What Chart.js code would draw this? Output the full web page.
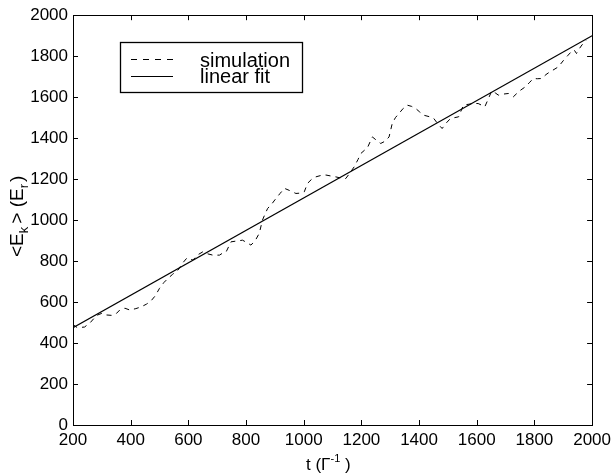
<!DOCTYPE html>
<html>
<head>
<meta charset="utf-8">
<script src="https://cdn.jsdelivr.net/npm/chart.js@4"></script>
<style>
html,body{margin:0;padding:0;background:#fff;}
canvas{display:block;}
</style>
</head>
<body>
<canvas id="c" width="616" height="475"></canvas>
<script>
// ---- data ----
const simT = [200,215,240,260,282,300,316,335,351,362,380,397,418,437,455,470,485,500,515,529,545,564,580,595,616,632,650,668,685,708,720,731,748,768,788,803,817,832,846,857,866,875,890,904,918,933,950,973,990,1002,1013,1028,1042,1060,1077,1095,1111,1130,1146,1160,1175,1188,1198,1210,1220,1238,1252,1267,1282,1296,1307,1318,1330,1345,1359,1374,1388,1402,1416,1435,1451,1465,1480,1495,1509,1523,1537,1554,1570,1588,1605,1628,1652,1665,1675,1692,1710,1727,1748,1768,1782,1796,1810,1825,1840,1854,1868,1883,1900,1917,1930,1938,1946,1955,1965,1980];
const simE = [490,475,478,500,535,545,537,535,545,561,570,561,568,577,590,605,630,667,695,715,735,756,790,815,805,830,845,835,829,829,840,845,894,898,902,890,878,900,936,1000,1030,1057,1080,1106,1130,1155,1145,1130,1132,1138,1179,1200,1211,1218,1220,1215,1211,1205,1203,1230,1260,1295,1325,1340,1350,1406,1390,1374,1385,1406,1472,1500,1520,1545,1561,1555,1545,1528,1512,1505,1496,1470,1447,1475,1496,1500,1504,1561,1565,1569,1569,1553,1630,1620,1610,1615,1618,1602,1630,1650,1670,1691,1690,1691,1710,1724,1735,1748,1778,1805,1825,1830,1813,1835,1855,1878];
const fitT = [200, 2000];
const fitE = [475, 1900];
const xTicks = [200,400,600,800,1000,1200,1400,1600,1800,2000];
const yTicks = [0,200,400,600,800,1000,1200,1400,1600,1800,2000];
const seriesNames = ['simulation', 'linear fit'];

const FONT = "'Liberation Sans', Arial, Helvetica, sans-serif";
Chart.defaults.font.family = FONT;
Chart.defaults.color = '#000';

const frameAndDecor = {
  id: 'frameAndDecor',
  afterDraw(chart) {
    const ctx = chart.ctx;
    const a = chart.chartArea;
    const xs = chart.scales.x, ys = chart.scales.y;
    ctx.save();
    ctx.strokeStyle = '#000';
    ctx.lineWidth = 1;
    ctx.setLineDash([]);
    // frame
    ctx.strokeRect(Math.round(a.left) + 0.5, Math.round(a.top) + 0.5,
                   Math.round(a.right - a.left), Math.round(a.bottom - a.top));
    // inward ticks
    const TL = 5;
    ctx.beginPath();
    xTicks.forEach(v => {
      const px = Math.round(xs.getPixelForValue(v)) + 0.5;
      ctx.moveTo(px, a.bottom); ctx.lineTo(px, a.bottom - TL);
      ctx.moveTo(px, a.top); ctx.lineTo(px, a.top + TL);
    });
    yTicks.forEach(v => {
      const py = Math.round(ys.getPixelForValue(v)) + 0.5;
      ctx.moveTo(a.left, py); ctx.lineTo(a.left + TL, py);
      ctx.moveTo(a.right, py); ctx.lineTo(a.right - TL, py);
    });
    ctx.stroke();

    // legend box
    ctx.fillStyle = '#fff';
    ctx.fillRect(120, 42, 183, 51);
    ctx.lineWidth = 1.3;
    ctx.strokeRect(120.5, 42.5, 182, 50);
    ctx.lineWidth = 1;
    ctx.beginPath();
    ctx.setLineDash([6, 6]);
    ctx.moveTo(131, 59.5); ctx.lineTo(173, 59.5);
    ctx.stroke();
    ctx.setLineDash([]);
    ctx.beginPath();
    ctx.moveTo(131, 76.5); ctx.lineTo(173, 76.5);
    ctx.stroke();
    ctx.fillStyle = '#000';
    ctx.font = '20px ' + FONT;
    ctx.textAlign = 'left';
    ctx.textBaseline = 'alphabetic';
    ctx.fillText(chart.data.datasets[0].label, 200, 66.5);
    ctx.fillText(chart.data.datasets[1].label, 200, 82.5);

    // x-axis title: t (Γ^-1 )
    const bx = 470;
    let px = 306;
    const xpiece = (txt, f, dy, gap) => {
      ctx.font = f;
      ctx.fillText(txt, px, bx + dy);
      px += ctx.measureText(txt).width + (gap || 0);
    };
    xpiece('t (', '17px ' + FONT, 0, 0);
    xpiece('\u0393', '17px ' + FONT, 0, 0);
    xpiece('-1', '11px ' + FONT, -8, 0);
    xpiece(' )', '17px ' + FONT, 0, 0);

    // y-axis title: <E_k> (E_r), rotated
    ctx.save();
    ctx.translate(22.5, 257);
    ctx.rotate(-Math.PI / 2);
    let x = 0;
    const big = '19px ' + FONT, small = '13px ' + FONT;
    const piece = (txt, f, dy, gap) => {
      ctx.font = f;
      ctx.fillText(txt, x, dy);
      x += ctx.measureText(txt).width + (gap || 0);
    };
    piece('<E', big, 0);
    piece('k', small, 5, 3);
    piece('> (E', big, 0);
    piece('r', small, 5, 2);
    piece(')', big, 0);
    ctx.restore();

    ctx.restore();
  }
};

new Chart(document.getElementById('c'), {
  type: 'line',
  data: {
    datasets: [
      {
        label: seriesNames[0],
        data: simT.map((t, i) => ({ x: t, y: simE[i] })),
        borderColor: '#000',
        borderWidth: 1,
        borderDash: [5, 5],
        pointRadius: 0,
        tension: 0,
        fill: false
      },
      {
        label: seriesNames[1],
        data: fitT.map((t, i) => ({ x: t, y: fitE[i] })),
        borderColor: '#000',
        borderWidth: 1.1,
        pointRadius: 0,
        tension: 0,
        fill: false
      }
    ]
  },
  options: {
    responsive: false,
    animation: false,
    devicePixelRatio: 1,
    layout: { padding: { left: 0, right: 22, top: 15, bottom: 0 } },
    plugins: { legend: { display: false }, tooltip: { enabled: false }, title: { display: false } },
    scales: {
      x: {
        type: 'linear',
        min: 200, max: 2000,
        afterBuildTicks: (s) => { s.ticks = xTicks.map(v => ({ value: v })); },
        ticks: { font: { size: 17 }, color: '#000', padding: 5, maxRotation: 0, autoSkip: false,
                 callback: (v) => String(v) },
        grid: { display: false, drawTicks: false },
        border: { display: false },
        afterFit: (s) => { s.height = 50; }
      },
      y: {
        type: 'linear',
        min: 0, max: 2000,
        afterBuildTicks: (s) => { s.ticks = yTicks.map(v => ({ value: v })); },
        ticks: { font: { size: 17 }, color: '#000', padding: 5, autoSkip: false,
                 callback: (v) => String(v) },
        grid: { display: false, drawTicks: false },
        border: { display: false },
        afterFit: (s) => { s.width = 73; }
      }
    }
  },
  plugins: [frameAndDecor]
});
</script>
</body>
</html>
